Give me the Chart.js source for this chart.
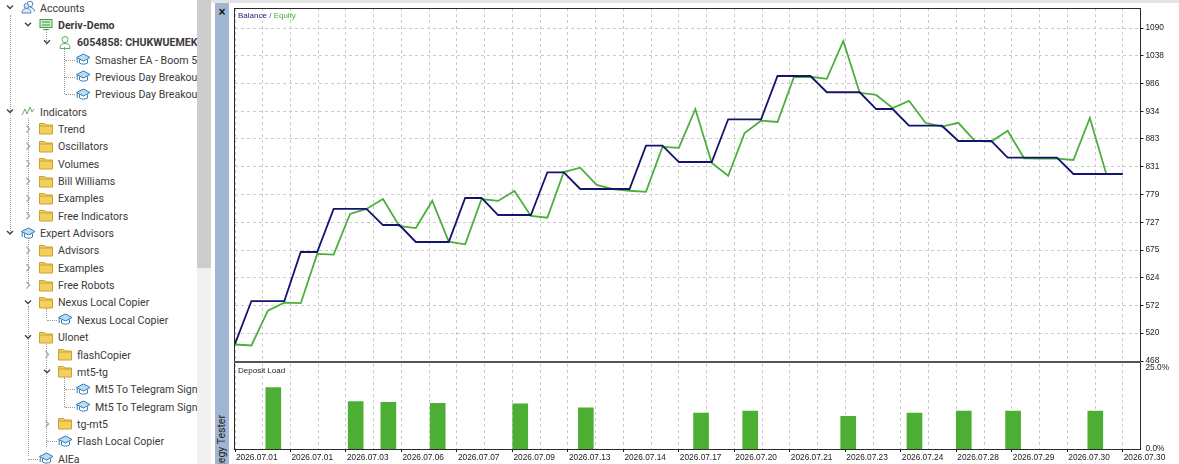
<!DOCTYPE html>
<html><head><meta charset="utf-8">
<script src="https://cdn.jsdelivr.net/npm/chart.js@4"></script>
<style>
html,body{margin:0;padding:0;background:#fff;width:1179px;height:464px;overflow:hidden}
.abs{position:absolute}
#tree{left:0;top:0;width:197px;height:464px;overflow:hidden;font:10.6px Roboto,sans-serif;color:#3a3a3a}
.row{position:absolute;white-space:nowrap;line-height:16px;height:16px}
.dot{position:absolute;border-left:1px dotted #999}
.doth{position:absolute;border-top:1px dotted #999}
canvas{position:absolute;display:block}
.frame{position:absolute;border:1px solid #2a2a2a;box-sizing:border-box;pointer-events:none}
.cap{position:absolute;font:8px "Liberation Sans",sans-serif;color:#222;white-space:nowrap}
</style></head><body>
<div class="abs" style="left:197px;top:0;width:14px;height:464px;background:#f0f0f0"></div>
<div class="abs" style="left:197px;top:0;width:14px;height:268px;background:#cdcdcd"></div>
<div class="abs" style="left:211px;top:0;width:968px;height:3px;background:#e4e4e4"></div>
<div class="abs" style="left:215px;top:3px;width:14px;height:461px;background:#a0b6d2"></div>
<div class="abs" style="left:216px;top:5px;width:12px;text-align:center;font:bold 12px 'Liberation Sans';color:#111">×</div>
<div class="abs" style="left:215px;top:415px;width:14px;line-height:14px;writing-mode:vertical-rl;transform:rotate(180deg);font:10.5px Roboto;color:#222;white-space:nowrap">Strategy Tester</div>
<div id="tree" class="abs"></div>
<canvas id="main" width="949" height="370" style="left:230px;top:0;width:949px;height:370px"></canvas>
<canvas id="load" width="949" height="101" style="left:230px;top:363px;width:949px;height:101px;background:#fff"></canvas>
<div class="frame" style="left:234px;top:8px;width:907px;height:354px"></div>
<div class="abs" style="left:234px;top:361px;width:907px;height:2px;background:#555"></div>
<div class="frame" style="left:234px;top:363px;width:907px;height:87px;border-top:none"></div>
<div class="cap" style="left:238px;top:11px"><span style="color:#1c1c78">Balance</span> <span style="color:#555">/</span> <span style="color:#4cae3c">Equity</span></div>
<div class="cap" style="left:238px;top:366px">Deposit Load</div>
<script>
const balance=[500,580,580,580,671.6,671.6,752,752,752,722,722,690.3,690.3,690.3,772.5,772.5,740.7,740.7,740.7,820.5,820.5,789.3,789.3,789.3,789.3,870.2,870.2,839.7,839.7,839.7,919.5,919.5,919.5,1000.4,1000.4,1000.4,970,970,970,938.7,938.7,907.5,907.5,907.5,879,879,879,847.8,847.8,847.8,847.8,817.3,817.3,817.3,817.3];
const equity=[498.8,497,562,577,576,668,666.6,742.6,752,770.6,720,716.4,767.4,690.9,686,770.6,767,785.6,739,735.7,821,829,796.8,789,786,784,867.8,866,938.7,837.9,814,893.9,916.9,914.5,998.5,999,995,1065.8,969,965,940.6,954,913,905.7,913,879,878,898,846.6,846,846,843.5,922,817,817];
const loadIndex=[2.33,7.34,9.33,12.33,17.35,21.34,28.35,31.34,37.3,41.33,44.33,47.33,52.33];
const loadValues=[18.9,14.6,14.4,14.1,13.9,12.7,11.1,11.7,10.1,11.1,11.7,11.7,11.7];
const yTicks=[468,520,572,624,675,727,779,831,883,934,986,1038,1090];
const loadTicks=[0,25];
const dateLabels=["2026.07.01","2026.07.01","2026.07.03","2026.07.06","2026.07.07","2026.07.09","2026.07.13","2026.07.14","2026.07.17","2026.07.20","2026.07.21","2026.07.23","2026.07.24","2026.07.28","2026.07.29","2026.07.30","2026.07.30"];
const GRID_STEP=1.6875, X_MAX=55.08, MAIN_TOP=1127.4, LOAD_TOP=26.2;
const NAVY='#14146e', GREEN='#4cae3c', GRID='#cbcbcb', INK='#1a1a1a';
const xGridValues=[];for(let i=0;i*GRID_STEP<X_MAX;i++)xGridValues.push(i*GRID_STEP);
const FONT={family:'"Liberation Sans",sans-serif',size:8.3};
const xScale=(h,showLabels)=>({type:'linear',min:0,max:X_MAX,offset:false,
  afterBuildTicks:s=>{s.ticks=xGridValues.map(v=>({value:v}))},
  afterFit:s=>{s.height=h;s.paddingLeft=0;s.paddingRight=0},
  border:{display:false,dash:[3,3]},
  grid:{color:GRID,lineWidth:1,tickLength:3,drawTicks:showLabels,offset:false,
    tickColor:c=>c.index%2===0?INK:'rgba(0,0,0,0)',tickBorderDash:[]},
  ticks:{display:showLabels,autoSkip:false,maxRotation:0,minRotation:0,align:'start',padding:1,color:INK,font:FONT,labelOffset:1,
    callback:(v,i)=>i%2===0?dateLabels[i/2]:''}});
const yFit=s=>{s.width=38.5;s.paddingTop=0;s.paddingBottom=0};
Chart.defaults.animation=false;
Chart.defaults.responsive=false;
new Chart(document.getElementById('main'),{type:'line',
  data:{labels:balance.map((_,i)=>i),datasets:[
    {label:'Balance',data:balance.map((v,i)=>({x:i,y:v})),borderColor:NAVY,borderWidth:1.8,pointRadius:0,tension:0,order:1},
    {label:'Equity',data:equity.map((v,i)=>({x:i,y:v})),borderColor:GREEN,borderWidth:1.8,pointRadius:0,tension:0,order:2}]},
  options:{devicePixelRatio:1,layout:{padding:{left:5,top:8,bottom:9,right:0}},
    plugins:{legend:{display:false},tooltip:{enabled:false}},
    scales:{x:xScale(0,false),
      y:{position:'right',min:468,max:MAIN_TOP,
        afterBuildTicks:s=>{s.ticks=yTicks.map(v=>({value:v}))},
        afterFit:yFit,
        border:{display:false,dash:[3,3]},
        grid:{color:GRID,tickLength:3,tickColor:INK,tickBorderDash:[]},
        ticks:{color:INK,font:FONT,padding:2,callback:v=>String(v)}}}}});
new Chart(document.getElementById('load'),{type:'bar',
  data:{datasets:[{label:'Deposit Load',data:loadValues.map((v,i)=>({x:loadIndex[i],y:v})),backgroundColor:'#4cae32',barThickness:15}]},
  options:{devicePixelRatio:1,layout:{padding:{left:5,top:1,bottom:0,right:0}},
    plugins:{legend:{display:false},tooltip:{enabled:false}},
    scales:{x:xScale(15,true),
      y:{position:'right',min:0,max:LOAD_TOP,
        afterBuildTicks:s=>{s.ticks=loadTicks.map(v=>({value:v}))},
        afterFit:yFit,
        border:{display:false},
        grid:{display:false,tickLength:0},
        ticks:{color:INK,font:FONT,padding:5,callback:v=>v.toFixed(1)+'%'}}}}});

/* navigator tree */
const rows=[
 ["Accounts",40,"users","v"],["Deriv-Demo",58,"server","v",1],["6054858: CHUKWUEMEKA",77,"user","v",1],
 ["Smasher EA - Boom 500",95,"cap"],["Previous Day Breakout",95,"cap"],["Previous Day Breakout",95,"cap"],
 ["Indicators",40,"ind","v"],["Trend",58,"folder",">"],["Oscillators",58,"folder",">"],["Volumes",58,"folder",">"],
 ["Bill Williams",58,"folder",">"],["Examples",58,"folder",">"],["Free Indicators",58,"folder",">"],
 ["Expert Advisors",40,"cap","v"],["Advisors",58,"folder",">"],["Examples",58,"folder",">"],["Free Robots",58,"folder",">"],
 ["Nexus Local Copier",58,"folder","v"],["Nexus Local Copier",77,"cap"],["Ulonet",58,"folder","v"],
 ["flashCopier",77,"folder",">"],["mt5-tg",77,"folder","v"],["Mt5 To Telegram Signal",95,"cap"],["Mt5 To Telegram Signal",95,"cap"],
 ["tg-mt5",77,"folder",">"],["Flash Local Copier",77,"cap"],["AIEa",58,"cap"]];
const icons={
 folder:'<path d="M0.5 2.5h5l1.5 1.5h6.5v9h-13z" fill="#f5cf5c" stroke="#c9a233"/><path d="M0.5 5h13" stroke="#c9a233"/>',
 cap:'<path d="M0.5 5.5L7.5 2l6.5 3.5-6.5 3.5z" fill="#bcdcf2" stroke="#2f7fb8"/><path d="M3.5 7.5v3.5c2 1.5 6 1.5 8 0V7.5" fill="none" stroke="#2f7fb8"/><path d="M1.2 6v5" stroke="#2f7fb8"/>',
 users:'<circle cx="9" cy="4" r="2.8" fill="none" stroke="#4a86c8"/><circle cx="5.5" cy="6" r="2.4" fill="#dbe9f7" stroke="#4a86c8"/><path d="M1 13c0-3.5 2-4.5 4.5-4.5S10 9.500 10 13z M9 7.500c3 0 4.500 1.500 4.500 4" fill="#dbe9f7" stroke="#4a86c8"/>',
 server:'<rect x="1" y="2.500" width="12" height="8" fill="#cfeccb" stroke="#3f9e48"/><path d="M3 5h8M3 8h8M4 12.500h6" stroke="#3f9e48"/>',
 user:'<circle cx="7" cy="4.500" r="3" fill="none" stroke="#4fb45a"/><path d="M2 13.500c0-4 2-5 5-5s5 1 5 5z" fill="none" stroke="#4fb45a"/>',
 ind:'<path d="M1 11l3-6 2 5 3-7 2 5 2-3" fill="none" stroke="#6aa86a"/>'};
const tree=document.getElementById('tree');
let html='';
const vlines=[[10,15,100],[10,118,115],[28,118,95],[28,238,45],[28,306,150],[46,30,15],[46,308,10],[46,342,105],[64,47,47],[64,377,30]];
vlines.forEach(l=>html+=`<div class="dot" style="left:${l[0]}px;top:${l[1]}px;height:${l[2]}px"></div>`);
rows.forEach((r,i)=>{
  const cy=7.5+i*17.35, tx=r[1], ix=tx-18;
  if(r[3]){const cx=ix-12,cyy=cy;
    const p=r[3]==='v'?`M${cx-3} ${cyy-2}l3 3 3-3`:`M${cx-1.500} ${cyy-3.500}l3 3.500-3 3.500`;
    html+=`<svg class="abs" style="left:0;top:0;position:absolute" width="197" height="464"><path d="${p}" fill="none" stroke="${r[3]==='v'?'#444':'#aaa'}" stroke-width="1.400"/></svg>`;
  } else {
    html+=`<div class="doth" style="left:${ix-12}px;top:${Math.round(cy)}px;width:10px"></div>`;
  }
  html+=`<svg style="position:absolute;left:${ix-1}px;top:${cy-7.5}px" width="15" height="15">${icons[r[2]]}</svg>`;
  html+=`<div class="row" style="left:${tx}px;top:${cy-7}px;${r[4]?'font-weight:bold;':''}">${r[0]}</div>`;
});
tree.innerHTML=html;
</script>
</body></html>
